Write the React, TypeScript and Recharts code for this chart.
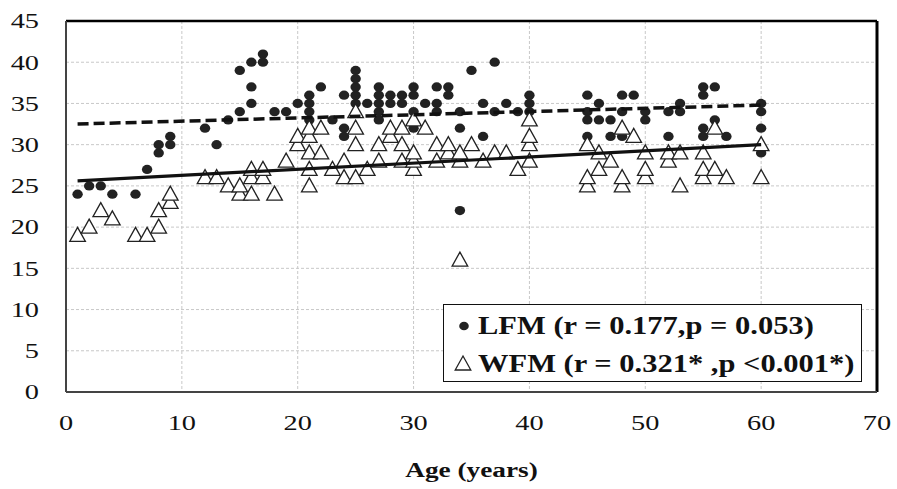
import React from 'react'
import {
  ScatterChart,
  Scatter,
  XAxis,
  YAxis,
  CartesianGrid,
  ReferenceLine,
  Legend,
} from 'recharts'

const xTicks = [0, 10, 20, 30, 40, 50, 60, 70]
const yTicks = [0, 5, 10, 15, 20, 25, 30, 35, 40, 45]

// [age, value]
const lfmPoints: [number, number][] = [
  [1, 24], [2, 25], [3, 25], [4, 24], [6, 24], [7, 27], [8, 29], [8, 30], [9, 30], [9, 31],
  [12, 32], [13, 30], [14, 33], [15, 34], [15, 39], [16, 35], [16, 37], [16, 40], [17, 40], [17, 41],
  [18, 34], [19, 34], [20, 35], [21, 33], [21, 34], [21, 35], [21, 36], [22, 37], [23, 33], [24, 31],
  [24, 32], [24, 36], [25, 35], [25, 36], [25, 37], [25, 38], [25, 39], [26, 35], [27, 33], [27, 34],
  [27, 35], [27, 36], [27, 37], [28, 35], [28, 36], [29, 35], [29, 36], [30, 32], [30, 34], [30, 36],
  [30, 37], [31, 35], [32, 34], [32, 35], [32, 37], [33, 36], [33, 37], [34, 32], [34, 34], [34, 22],
  [35, 39], [36, 31], [36, 35], [37, 34], [37, 40], [38, 35], [39, 34], [40, 34], [40, 35], [40, 36],
  [45, 31], [45, 33], [45, 34], [45, 36], [46, 33], [46, 35], [47, 31], [47, 33], [48, 31], [48, 34],
  [48, 36], [49, 36], [50, 33], [50, 34], [52, 31], [52, 34], [53, 34], [53, 35], [55, 31], [55, 32],
  [55, 36], [55, 37], [56, 33], [56, 37], [57, 31], [60, 29], [60, 32], [60, 34], [60, 35],
]

const wfmPoints: [number, number][] = [
  [1, 19], [2, 20], [3, 22], [4, 21], [6, 19], [7, 19], [8, 20], [8, 22], [9, 23], [9, 24],
  [12, 26], [13, 26], [14, 25], [15, 24], [15, 25], [16, 24], [16, 26], [16, 27], [17, 26], [17, 27],
  [18, 24], [19, 28], [20, 30], [20, 31], [21, 25], [21, 27], [21, 29], [21, 31], [21, 32], [22, 29],
  [22, 32], [23, 27], [24, 26], [24, 28], [25, 26], [25, 30], [25, 32], [25, 34], [26, 27], [27, 28],
  [27, 30], [28, 31], [28, 32], [29, 28], [29, 30], [29, 32], [30, 27], [30, 28], [30, 29], [30, 33],
  [31, 32], [32, 28], [32, 30], [33, 29], [33, 30], [34, 16], [34, 28], [34, 29], [35, 30], [36, 28],
  [37, 29], [38, 29], [39, 27], [40, 28], [40, 30], [40, 31], [40, 33], [45, 25], [45, 26], [45, 30],
  [46, 27], [46, 29], [47, 28], [48, 25], [48, 26], [48, 32], [49, 31], [50, 26], [50, 27], [50, 29],
  [52, 28], [52, 29], [53, 25], [53, 29], [55, 26], [55, 27], [55, 29], [56, 27], [56, 32], [57, 26],
  [60, 26], [60, 30],
]

// linear trend lines (end points)
const trendAge = [1, 60]
const lfmTrend = [32.5, 34.8]
const wfmTrend = [25.6, 30]

const lfmLabel = 'LFM (r = 0.177,p = 0.053)'
const wfmLabel = 'WFM (r = 0.321* ,p <0.001*)'

const toRows = (pts: [number, number][]) => pts.map(([age, value]) => ({ age, value }))
const lfmData = toRows(lfmPoints)
const wfmData = toRows(wfmPoints)
const lfmTrendData = trendAge.map((age, i) => ({ age, value: lfmTrend[i] }))
const wfmTrendData = trendAge.map((age, i) => ({ age, value: wfmTrend[i] }))

const FONT = '"Liberation Serif", "Times New Roman", serif'

const YTick = ({ x, y, payload }: any) => (
  <text
    transform={`translate(${x},${y}) scale(1.35,1)`}
    textAnchor="end"
    dy="0.35em"
    fontFamily={FONT}
    fontSize={21}
    fill="#111"
  >
    {payload.value}
  </text>
)

const XTick = ({ x, y, payload }: any) => (
  <text
    transform={`translate(${x},${y}) scale(1.35,1)`}
    textAnchor="middle"
    dy="0.35em"
    fontFamily={FONT}
    fontSize={21}
    fill="#111"
  >
    {payload.value}
  </text>
)

const AxisTitle = ({ viewBox }: any) => {
  const cx = viewBox.x + viewBox.width / 2
  const cy = viewBox.y + 78
  return (
    <text
      transform={`translate(${cx},${cy}) scale(1.3,1)`}
      textAnchor="middle"
      dy="0.35em"
      fontFamily={FONT}
      fontSize={21}
      fontWeight="bold"
      fill="#111"
    >
      Age (years)
    </text>
  )
}

const Dot = ({ cx, cy }: any) => (
  <ellipse cx={cx} cy={cy} rx={5.2} ry={4.6} fill="#222" />
)

const Triangle = ({ cx, cy }: any) => (
  <path
    d={`M${cx},${cy - 8} L${cx + 7.8},${cy + 6} L${cx - 7.8},${cy + 6} Z`}
    fill="#fff"
    stroke="#222"
    strokeWidth={1.3}
  />
)

const NoMark = () => <g />

const LegendBox = () => (
  <div style={styles.legendBox}>
    <svg style={styles.legendSvg} width={40} height={78}>
      <ellipse cx={20} cy={21} rx={4.8} ry={4.3} fill="#222" />
      <path d="M19,51 L26.8,65 L11.2,65 Z" fill="#fff" stroke="#222" strokeWidth={1.3} />
    </svg>
    <span style={{ ...styles.legendText, top: 5 }}>{lfmLabel}</span>
    <span style={{ ...styles.legendText, top: 43 }}>{wfmLabel}</span>
  </div>
)

export default function App() {
  return (
    <div style={styles.page}>
      <ScatterChart
        width={897}
        height={489}
        margin={{ top: 21, right: 20, bottom: 7, left: 16 }}
      >
        <CartesianGrid stroke="#c8c8c8" strokeDasharray="3 2" />
        <XAxis
          type="number"
          dataKey="age"
          domain={[0, 70]}
          ticks={xTicks}
          interval={0}
          height={90}
          tickSize={0}
          tickMargin={31}
          tickLine={false}
          axisLine={{ stroke: '#444', strokeWidth: 2 }}
          tick={<XTick />}
          label={<AxisTitle />}
          allowDataOverflow
        />
        <YAxis
          type="number"
          dataKey="value"
          domain={[0, 45]}
          ticks={yTicks}
          interval={0}
          width={50}
          tickSize={0}
          tickMargin={27}
          tickLine={false}
          axisLine={{ stroke: '#444', strokeWidth: 2 }}
          tick={<YTick />}
          allowDataOverflow
        />
        <ReferenceLine y={45} stroke="#000" strokeWidth={2.5} />
        <ReferenceLine x={70} stroke="#000" strokeWidth={3} />
        <Scatter
          name={lfmLabel}
          data={lfmData}
          shape={<Dot />}
          isAnimationActive={false}
          legendType="circle"
        />
        <Scatter
          name={wfmLabel}
          data={wfmData}
          shape={<Triangle />}
          isAnimationActive={false}
          legendType="triangle"
        />
        <Scatter
          data={lfmTrendData}
          line={{ stroke: '#111', strokeWidth: 3.5, strokeDasharray: '11 5' }}
          shape={<NoMark />}
          isAnimationActive={false}
          legendType="none"
        />
        <Scatter
          data={wfmTrendData}
          line={{ stroke: '#111', strokeWidth: 3.2 }}
          shape={<NoMark />}
          isAnimationActive={false}
          legendType="none"
        />
        <Legend
          layout="vertical"
          align="center"
          verticalAlign="middle"
          content={<LegendBox />}
          wrapperStyle={{ left: 443, top: 304, width: 419, height: 78 }}
        />
      </ScatterChart>
    </div>
  )
}

const styles: Record<string, React.CSSProperties> = {
  page: {
    position: 'absolute',
    left: 0,
    top: 0,
    width: 897,
    height: 489,
    background: '#fff',
  },
  legendBox: {
    position: 'relative',
    width: 419,
    height: 78,
    boxSizing: 'border-box',
    border: '1.5px solid #111',
    background: '#fff',
  },
  legendSvg: {
    position: 'absolute',
    left: 0,
    top: 0,
  },
  legendText: {
    position: 'absolute',
    left: 34,
    fontFamily: FONT,
    fontSize: 25,
    fontWeight: 'bold',
    lineHeight: '32px',
    color: '#111',
    whiteSpace: 'nowrap',
    transform: 'scaleX(1.22)',
    transformOrigin: 'left center',
  },
}
